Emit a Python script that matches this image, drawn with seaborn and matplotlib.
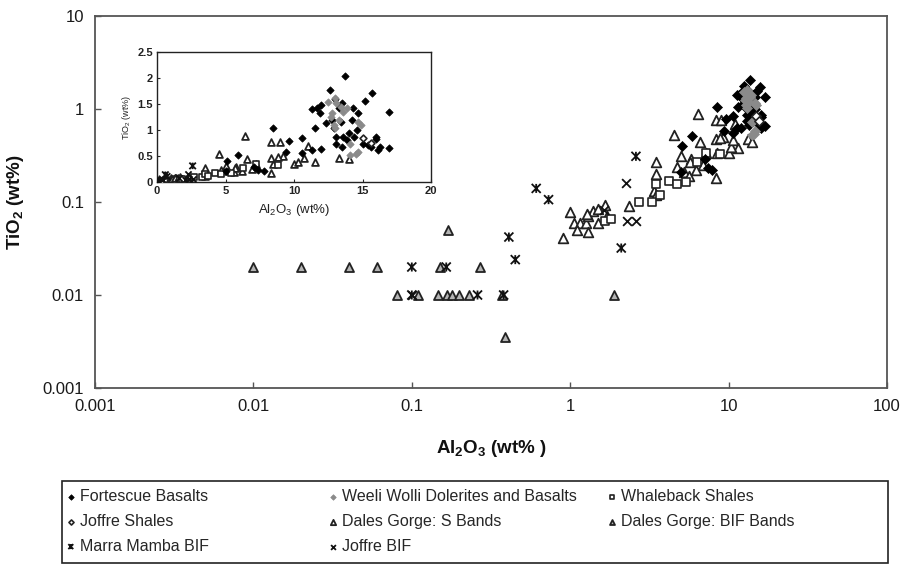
import matplotlib
matplotlib.use("Agg")
import matplotlib.pyplot as plt
import seaborn as sns
import pandas as pd
from matplotlib.path import Path
from matplotlib.patches import Rectangle
from matplotlib.ticker import FixedLocator, FixedFormatter, NullLocator

# ---------------- data (Al2O3 wt%, TiO2 wt%) ----------------
fb_x = [8.5, 9.6, 9.4, 10.6, 10.6, 11.3, 11.5, 11.3, 12.0, 12.0, 12.6, 11.9, 12.3, 12.8, 12.9, 13.7, 13.0,
        13.3, 13.4, 13.1, 13.1, 13.6, 14.0, 14.3, 14.2, 14.4, 13.9, 14.6, 14.7, 13.5, 15.7, 15.2, 15.0, 15.4,
        15.6, 16.0, 16.0, 16.1, 16.3, 16.9, 16.9, 13.5, 11.7, 5.1, 5.9, 7.4, 7.1, 5.0, 7.8]
fb_y = [1.04, 0.79, 0.58, 0.85, 0.55, 1.40, 1.04, 0.62, 0.63, 1.48, 1.77, 1.33, 1.13, 1.19, 1.03, 2.04, 1.59,
        1.42, 1.16, 0.74, 0.87, 0.87, 0.94, 1.42, 1.19, 0.87, 0.81, 1.00, 1.33, 0.68, 1.72, 1.56, 0.74, 0.71,
        0.67, 0.87, 0.82, 0.62, 0.68, 1.35, 0.65, 1.51, 1.42, 0.40, 0.51, 0.23, 0.29, 0.21, 0.22]

ww_x = [12.5, 13.0, 13.1, 13.9, 13.6, 12.8, 12.9, 13.0, 13.3, 14.7, 14.9, 14.1, 14.5, 14.7, 14.1, 13.4, 12.7]
ww_y = [1.54, 1.62, 1.51, 1.42, 1.35, 1.32, 1.10, 1.03, 1.19, 1.16, 1.10, 0.73, 0.54, 0.58, 0.52, 1.45, 1.25]

ws_x = [1.65, 1.8, 2.7, 3.3, 3.5, 3.7, 4.2, 4.7, 5.4, 6.3, 7.2, 8.8]
ws_y = [0.062, 0.065, 0.10, 0.10, 0.155, 0.12, 0.17, 0.155, 0.165, 0.27, 0.34, 0.33]

js_x = [15.0, 15.6]
js_y = [0.84, 0.75]

sb_x = [0.9, 1.0, 1.05, 1.15, 1.25, 1.1, 1.3, 1.4, 1.5, 1.3, 1.65, 1.7, 2.35, 3.5, 3.4, 3.5, 4.5, 3.5, 6.4,
        8.3, 9.0, 8.3, 9.2, 11.0, 13.3, 14.0, 11.5, 10.0, 8.5, 8.3, 6.6, 7.2, 5.8, 5.0, 4.7, 5.2, 5.6, 6.2,
        6.9, 5.7, 1.28, 1.5, 8.8, 10.3, 10.7]
sb_y = [0.041, 0.079, 0.06, 0.06, 0.06, 0.05, 0.07, 0.08, 0.06, 0.047, 0.092, 0.07, 0.09, 0.2, 0.13, 0.12,
        0.53, 0.27, 0.88, 0.76, 0.76, 0.47, 0.5, 0.69, 0.47, 0.44, 0.38, 0.34, 0.34, 0.18, 0.44, 0.34, 0.29,
        0.31, 0.24, 0.21, 0.19, 0.22, 0.25, 0.27, 0.074, 0.084, 0.49, 0.39, 0.46]

bb_x = [0.01, 0.02, 0.04, 0.06, 0.15, 0.27, 0.17, 0.081, 0.11, 0.146, 0.167, 0.18, 0.2, 0.23, 0.37, 0.39, 1.9]
bb_y = [0.02, 0.02, 0.02, 0.02, 0.02, 0.02, 0.05, 0.01, 0.01, 0.01, 0.01, 0.01, 0.01, 0.01, 0.01, 0.0035, 0.01]

mm_x = [0.1, 0.1, 0.165, 0.26, 0.38, 0.41, 0.45, 0.61, 0.73, 2.1, 2.6]
mm_y = [0.02, 0.01, 0.02, 0.01, 0.01, 0.042, 0.024, 0.14, 0.106, 0.032, 0.31]

jb_x = [1.63, 2.25, 2.3, 2.6, 0.1]
jb_y = [0.082, 0.16, 0.062, 0.062, 0.01]

x_ticks = [0.001, 0.01, 0.1, 1, 10, 100]
x_tick_labels = ["0.001", "0.01", "0.1", "1", "10", "100"]
y_ticks = [0.001, 0.01, 0.1, 1, 10]
y_tick_labels = ["0.001", "0.01", "0.1", "1", "10"]
inset_x_ticks = [0, 5, 10, 15, 20]
inset_y_ticks = [0, 0.5, 1, 1.5, 2, 2.5]
inset_y_labels = ["0", "0.5", "1", "1.5", "2", "2.5"]

# ---------------- style ----------------
sns.set_style("ticks")
plt.rcParams['font.family'] = ['Liberation Sans', 'DejaVu Sans']
plt.rcParams['mathtext.default'] = 'regular'

asterisk = Path([(0, -1), (0, 1), (-1, -1), (1, 1), (-1, 1), (1, -1)],
                [Path.MOVETO, Path.LINETO] * 3)

series = [
    # name, x, y, marker, size(main), size(inset), face, edge, lw
    ("Dales Gorge: BIF Bands", bb_x, bb_y, "^", 42, 22, "#b4b4b4", "#222222", 1.3),
    ("Dales Gorge: S Bands", sb_x, sb_y, "^", 48, 24, "white", "#222222", 1.3),
    ("Whaleback Shales", ws_x, ws_y, "s", 34, 18, "white", "#222222", 1.2),
    ("Joffre BIF", jb_x, jb_y, "x", 40, 20, "#111111", None, 1.3),
    ("Marra Mamba BIF", mm_x, mm_y, asterisk, 42, 22, "none", "#111111", 1.3),
    ("Fortescue Basalts", fb_x, fb_y, "D", 26, 14, "black", "black", 0.5),
    ("Weeli Wolli Dolerites and Basalts", ww_x, ww_y, "D", 26, 14, "#8a8a8a", "#8a8a8a", 0.5),
    ("Joffre Shales", js_x, js_y, "D", 22, 12, "white", "#222222", 1.2),
]

fig = plt.figure(figsize=(9.06, 5.66), dpi=100)
ax = fig.add_axes([95 / 906, 1 - 388 / 566, 792 / 906, 372 / 566])
axin = fig.add_axes([157 / 906, 1 - 182 / 566, 274 / 906, 130 / 566])

for name, xs, ys, mk, s_main, s_in, fc, ec, lw in series:
    df = pd.DataFrame({"Al2O3": xs, "TiO2": ys})
    kw = dict(marker=mk, linewidth=lw)
    if ec is None:
        kw.update(color=fc)
    else:
        kw.update(facecolor=fc, edgecolor=ec)
    sns.scatterplot(data=df, x="Al2O3", y="TiO2", s=s_main, ax=ax, label=name, zorder=3, **kw)
    sns.scatterplot(data=df, x="Al2O3", y="TiO2", s=s_in, ax=axin, zorder=3, legend=False, **kw)

h, l = ax.get_legend_handles_labels()
handles = dict(zip(l, h))
if ax.get_legend() is not None:
    ax.get_legend().remove()
if axin.get_legend() is not None:
    axin.get_legend().remove()

# ---------------- main axes ----------------
ax.set_xscale("log")
ax.set_yscale("log")
ax.set_xlim(0.001, 100)
ax.set_ylim(0.001, 10)
ax.xaxis.set_major_locator(FixedLocator(x_ticks))
ax.xaxis.set_major_formatter(FixedFormatter(x_tick_labels))
ax.yaxis.set_major_locator(FixedLocator(y_ticks))
ax.yaxis.set_major_formatter(FixedFormatter(y_tick_labels))
ax.xaxis.set_minor_locator(NullLocator())
ax.yaxis.set_minor_locator(NullLocator())
ax.tick_params(axis="both", which="major", direction="in", length=4, width=1,
               color="#555555", labelsize=12, labelcolor="#1a1a1a", pad=8)
for sp in ax.spines.values():
    sp.set_visible(True)
    sp.set_color("#555555")
    sp.set_linewidth(1.3)
ax.set_xlabel("Al$_2$O$_3$ (wt% )", fontsize=13.5, fontweight="bold", color="#111111", labelpad=17)
ax.set_ylabel("TiO$_2$ (wt%)", fontsize=13.5, fontweight="bold", color="#111111", labelpad=12)
ax.set_facecolor("white")

# ---------------- inset ----------------
axin.set_xlim(0, 20)
axin.set_ylim(0, 2.5)
axin.xaxis.set_major_locator(FixedLocator(inset_x_ticks))
axin.yaxis.set_major_locator(FixedLocator(inset_y_ticks))
axin.yaxis.set_major_formatter(FixedFormatter(inset_y_labels))
axin.tick_params(axis="both", direction="in", length=2.5, width=0.8, labelsize=8,
                 labelcolor="#222222", pad=3)
for lab in axin.get_xticklabels() + axin.get_yticklabels():
    lab.set_fontweight("bold")
for sp in axin.spines.values():
    sp.set_visible(True)
    sp.set_color("#222222")
    sp.set_linewidth(1.0)
axin.set_xlabel("Al$_2$O$_3$ (wt%)", fontsize=9.5, color="#222222", labelpad=4)
axin.set_ylabel("TiO$_2$ (wt%)", fontsize=6.5, color="#222222", labelpad=3)
axin.set_facecolor("white")

# ---------------- legend ----------------
fig.patches.append(Rectangle((62 / 906, 1 - 563 / 566), 826 / 906, 82 / 566,
                             transform=fig.transFigure, fill=False, edgecolor="#222222",
                             linewidth=1.2, zorder=0))
cols = [
    (["Fortescue Basalts", "Joffre Shales", "Marra Mamba BIF"], 66),
    (["Weeli Wolli Dolerites and Basalts", "Dales Gorge: S Bands", "Joffre BIF"], 328),
    (["Whaleback Shales", "Dales Gorge: BIF Bands"], 607),
]
for names, xpx in cols:
    fig.legend([handles[n] for n in names], names, loc="upper left",
               bbox_to_anchor=(xpx / 906, 1 - 489 / 566), bbox_transform=fig.transFigure,
               frameon=False, fontsize=11.5, markerscale=0.55, handlelength=0.6,
               handletextpad=0.3, labelspacing=0.62, borderpad=0, borderaxespad=0)

fig.savefig("out.png", dpi=100, facecolor="white")
